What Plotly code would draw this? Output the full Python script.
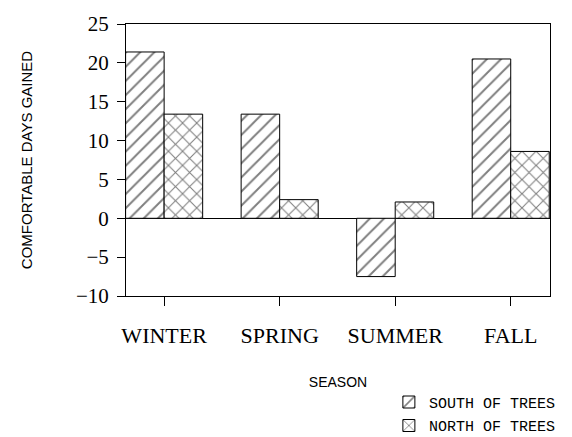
import plotly.graph_objects as go

seasons = ["WINTER", "SPRING", "SUMMER", "FALL"]
south_of_trees = [21.4, 13.4, -7.5, 20.5]
north_of_trees = [13.4, 2.4, 2.1, 8.6]
y_ticks = [-10, -5, 0, 5, 10, 15, 20, 25]

fig = go.Figure()
fig.add_trace(go.Bar(
    x=seasons, y=south_of_trees, name="SOUTH OF TREES", legendgroup="s",
    marker=dict(color="white", line=dict(color="black", width=1),
                pattern=dict(shape="/", fgcolor="black", size=10, solidity=0.2)),
))
fig.add_trace(go.Bar(
    x=seasons, y=north_of_trees, name="NORTH OF TREES", legendgroup="n",
    marker=dict(color="white", line=dict(color="black", width=1),
                pattern=dict(shape="x", fgcolor="black", size=10, solidity=0.2)),
))

fig.update_layout(
    width=572, height=437,
    margin=dict(l=118, r=30, t=16, b=149, autoexpand=False),
    paper_bgcolor="white", plot_bgcolor="white",
    barmode="group", bargap=0.333, bargroupgap=0,
    showlegend=True,
    legend=dict(
        x=0.62, y=-0.33, xanchor="left", yanchor="top",
        font=dict(family="Liberation Mono", size=15, color="black"),
        bgcolor="rgba(0,0,0,0)", tracegroupgap=1, traceorder="grouped",
    ),
    xaxis=dict(
        range=[-0.33, 3.34], showline=True, mirror=True, linecolor="black", linewidth=1,
        ticks="outside", ticklen=9, tickcolor="black", showgrid=False, automargin=False,
        tickfont=dict(family="Liberation Serif", size=22, color="black"),
        ticklabelstandoff=11,
        title=dict(text="SEASON", font=dict(family="Liberation Sans", size=14, color="black"),
                   standoff=29),
    ),
    yaxis=dict(
        range=[-10, 25], tickvals=y_ticks, showline=True, mirror=True, linecolor="black",
        linewidth=1, ticks="outside", ticklen=8, tickcolor="black", showgrid=False,
        zeroline=True, zerolinecolor="black", zerolinewidth=1, automargin=False,
        tickfont=dict(family="Liberation Serif", size=21, color="black"),
        ticklabelstandoff=4,
        title=dict(text="COMFORTABLE DAYS GAINED",
                   font=dict(family="Liberation Sans", size=15, color="black"),
                   standoff=39),
    ),
)

fig.write_html("out.html")
